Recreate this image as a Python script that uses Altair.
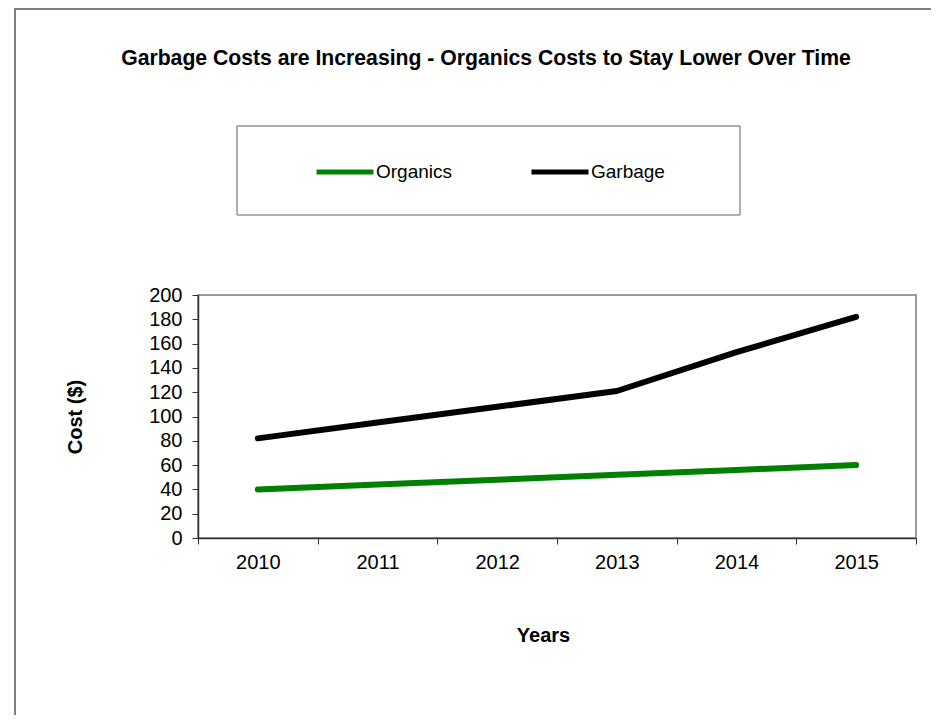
import altair as alt
import pandas as pd

years = ["2010", "2011", "2012", "2013", "2014", "2015"]
organics = [40, 44, 48, 52, 56, 60]
garbage = [82, 95, 108, 121, 153, 182]
series = ["Organics", "Garbage"]
colors = ["#008000", "#000000"]
y_ticks = [0, 20, 40, 60, 80, 100, 120, 140, 160, 180, 200]
title_text = "Garbage Costs are Increasing - Organics Costs to Stay Lower Over Time"

rows = []
for s, vals in zip(series, [organics, garbage]):
    for yr, v in zip(years, vals):
        rows.append({"Year": yr, "Cost": v, "Series": s})
df = pd.DataFrame(rows)

FONT = "Liberation Sans"
one = pd.DataFrame([{"k": 1}])

frame = alt.Chart(one).mark_rect(fill=None, stroke="#808080", strokeWidth=2).encode(
    x=alt.value(-183), x2=alt.value(800), y=alt.value(-286), y2=alt.value(600)
)

legend_box = alt.Chart(one).mark_rect(fill="white", stroke="#606060", strokeWidth=1).encode(
    x=alt.value(39), x2=alt.value(542), y=alt.value(-169), y2=alt.value(-80)
)

title = alt.Chart(one).mark_text(
    font=FONT, fontSize=21.2, fontWeight="bold", baseline="middle", align="center", color="black"
).encode(x=alt.value(288), y=alt.value(-236), text=alt.value(title_text))

lines = alt.Chart(df).mark_line(strokeWidth=6, strokeCap="round", strokeJoin="round").encode(
    x=alt.X(
        "Year:O",
        sort=years,
        bandPosition=0.5,
        scale=alt.Scale(type="band", paddingInner=0, paddingOuter=0),
        axis=alt.Axis(
            title="Years",
            labelAngle=0,
            tickBand="extent",
            labelPadding=8,
            titleX=345,
            titleY=97,
            titleBaseline="middle",
            titleAlign="center",
        ),
    ),
    y=alt.Y(
        "Cost:Q",
        scale=alt.Scale(domain=[0, 200], nice=False),
        axis=alt.Axis(
            title="Cost ($)",
            values=y_ticks,
            grid=False,
            labelPadding=10,
            titleX=-123,
            titleY=121.5,
            titleBaseline="middle",
            titleAlign="center",
        ),
    ),
    color=alt.Color(
        "Series:N",
        sort=series,
        scale=alt.Scale(domain=series, range=colors),
        legend=alt.Legend(
            title=None,
            orient="none",
            legendX=116,
            legendY=-154,
            direction="horizontal",
            symbolType="stroke",
            symbolSize=3249,
            symbolStrokeWidth=5,
            labelOffset=0,
            columnPadding=68,
            padding=0,
            labelFont=FONT,
            labelFontSize=19,
            labelColor="black",
        ),
    ),
)

chart = alt.layer(frame, legend_box, title, lines).properties(
    width=718,
    height=243,
    autosize=alt.AutoSizeParams(type="none"),
    padding={"left": 190, "top": 287, "right": 15, "bottom": 177},
    background="white",
).configure_view(
    stroke="#999999", strokeWidth=2
).configure_axis(
    labelFont=FONT,
    labelFontSize=20,
    labelColor="black",
    titleFont=FONT,
    titleFontSize=20,
    titleFontWeight="bold",
    titleColor="black",
    domainColor="#333333",
    domainWidth=1.5,
    tickColor="#333333",
    tickSize=6,
    tickWidth=1,
)

chart.save("out.html", embed_options={"renderer": "svg", "actions": False})
